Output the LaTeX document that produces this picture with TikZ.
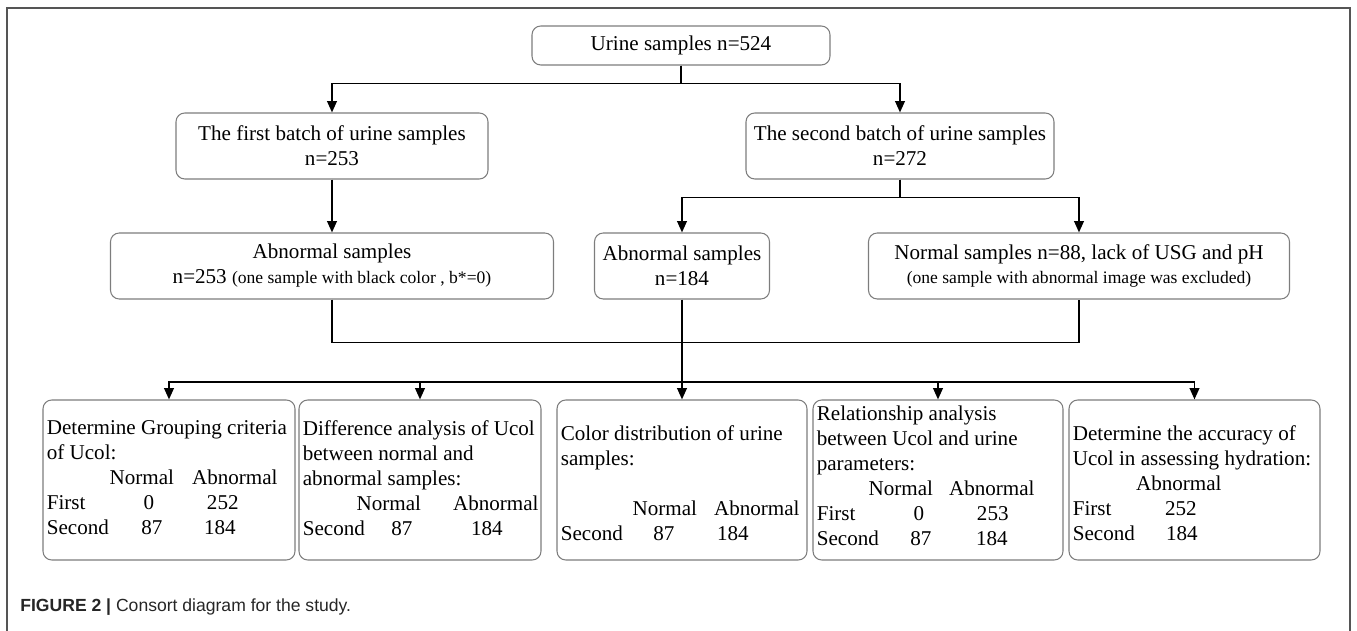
\documentclass[tikz,border=0pt]{standalone}
\usepackage{fontspec}
\setmainfont{Liberation Serif}
\setsansfont{Liberation Sans}
\usetikzlibrary{arrows.meta}

\newlength{\pxu}\setlength{\pxu}{0.02cm}
\newcommand{\cc}[2]{\makebox[0pt][l]{\hspace*{#1\pxu}\makebox[0pt]{#2}}}
\newcommand{\rl}[1]{\makebox[0pt][l]{#1}}
\definecolor{boxgray}{RGB}{125,125,125}
\definecolor{framegray}{RGB}{85,85,85}

\tikzset{
  box/.style={draw=boxgray, line width=0.6pt, rounded corners=5pt, inner sep=0pt,
    align=center, font=\fontsize{12}{14.2}\selectfont},
  sz/.style 2 args={minimum width=#1*\pxu, minimum height=#2*\pxu},
  lowtext/.style={inner sep=0pt, align=left, anchor=north west,
    font=\fontsize{12}{14.2}\selectfont},
  link/.style={line width=1.1pt},
  arr/.style={link, -{Triangle[length=6.5pt,width=5.5pt]}}
}

\begin{document}
\begin{tikzpicture}[x=0.02cm,y=-0.02cm]

\useasboundingbox (0,0) rectangle (1357,631);
\draw[framegray, line width=0.8pt] (7,631) -- (7,8) -- (1350,8) -- (1350,631);

\node[box, sz={298}{39}] (urine) at (681,45.5) {Urine samples n=524};

\node[box, sz={312}{66}] (batch1) at (332,146) {The first batch of urine samples\\n=253};
\node[box, sz={308}{66}] (batch2) at (900,146) {The second batch of urine samples\\n=272};

\node[box, sz={443}{66}] (abn1) at (332,266)
  {Abnormal samples\\n=253 {\fontsize{10}{12}\selectfont(one sample with black color , b*=0)}};
\node[box, sz={175}{66}] (abn2) at (682,266) {Abnormal samples\\n=184};
\node[box, sz={421}{66}] (norm2) at (1079,266)
  {Normal samples n=88, lack of USG and pH\\{\fontsize{10}{12}\selectfont(one sample with abnormal image was excluded)}};

\node[box, sz={252}{160}] (g1) at (169,480) {};
\node[box, sz={242}{160}] (g2) at (420,480) {};
\node[box, sz={250}{160}] (g3) at (682,480) {};
\node[box, sz={250}{160}] (g4) at (938,480) {};
\node[box, sz={251}{160}] (g5) at (1194.5,480) {};

\node[lowtext] (t1) at ([shift={(4,21)}]g1.north west)
  {Determine Grouping criteria\\of Ucol:\\\cc{95}{Normal}\cc{188}{Abnormal}\\
   \rl{First}\cc{102}{0}\cc{176}{252}\\\rl{Second}\cc{105}{87}\cc{173}{184}};
\node[lowtext] (t2) at ([shift={(4,21)}]g2.north west)
  {Difference analysis of Ucol\\between normal and\\abnormal samples:\\
   \cc{86}{Normal}\cc{193}{Abnormal}\\\rl{Second}\cc{99}{87}\cc{184}{184}};
\node[lowtext] (t3) at ([shift={(4,26)}]g3.north west)
  {Color distribution of urine\\samples:\\\mbox{}\\
   \cc{104}{Normal}\cc{196}{Abnormal}\\\rl{Second}\cc{103}{87}\cc{172}{184}};
\node[lowtext] (t4) at ([shift={(4,6)}]g4.north west)
  {Relationship analysis\\between Ucol and urine\\parameters:\\
   \cc{84}{Normal}\cc{175}{Abnormal}\\\rl{First}\cc{102}{0}\cc{176}{253}\\
   \rl{Second}\cc{104}{87}\cc{175}{184}};
\node[lowtext] (t5) at ([shift={(4,26)}]g5.north west)
  {Determine the accuracy of\\Ucol in assessing hydration:\\\cc{106}{Abnormal}\\
   \rl{First}\cc{108}{252}\\\rl{Second}\cc{109}{184}};

\draw[arr] (urine.south) -- ++(0,18) -| (batch1.north);
\draw[arr] (urine.south) -- ++(0,18) -| (batch2.north);
\draw[arr] (batch1.south) -- (abn1.north);
\draw[arr] (batch2.south) -- ++(0,18) -| (abn2.north);
\draw[arr] (batch2.south) -- ++(0,18) -| (norm2.north);

\draw[link] (abn1.south) -- ++(0,43) -| (norm2.south);
\coordinate (hub) at (682,382);
\draw[link] (abn2.south) -- (hub);
\foreach \g in {g1,g2,g3,g4,g5}
  \draw[arr] (hub) -| (\g.north);

\node[anchor=west, inner sep=0pt, text=black!85, font=\sffamily\fontsize{10}{12}\selectfont]
  (caption) at (20,607) {\textbf{FIGURE 2 |} Consort diagram for the study.};

\end{tikzpicture}
\end{document}
